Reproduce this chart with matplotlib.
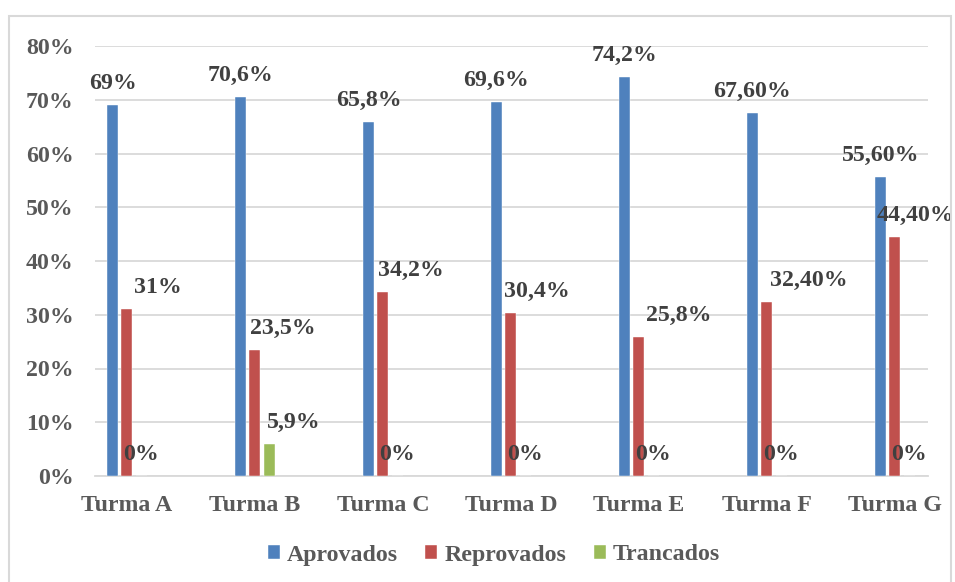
import numpy as np
import matplotlib.pyplot as plt
from matplotlib.patches import Rectangle

# Resultado por turma (%)
turmas = ["Turma A", "Turma B", "Turma C", "Turma D", "Turma E", "Turma F", "Turma G"]
aprovados = [69, 70.6, 65.8, 69.6, 74.2, 67.6, 55.6]
reprovados = [31, 23.5, 34.2, 30.4, 25.8, 32.4, 44.4]
trancados = [0, 5.9, 0, 0, 0, 0, 0]

rot_aprovados = ["69%", "70,6%", "65,8%", "69,6%", "74,2%", "67,60%", "55,60%"]
rot_reprovados = ["31%", "23,5%", "34,2%", "30,4%", "25,8%", "32,40%", "44,40%"]
rot_trancados = ["0%", "5,9%", "0%", "0%", "0%", "0%", "0%"]

plt.rcParams["font.family"] = ["Liberation Serif", "DejaVu Serif"]
plt.rcParams["font.weight"] = "bold"

FS = 17.2
cores = ["#4F81BD", "#C0504D", "#9BBB59"]

fig = plt.figure(figsize=(9.55, 5.82), dpi=100)
ax = fig.add_axes([95 / 955, 1 - 476 / 582, 833 / 955, 430 / 582])

x = np.arange(len(turmas))
w = 0.086
d = 0.113

series = [
    (aprovados, rot_aprovados, "Aprovados", -d),
    (reprovados, rot_reprovados, "Reprovados", 0),
    (trancados, rot_trancados, "Trancados", d),
]

# deslocamento horizontal dos rótulos (pixels)
shift = [
    [0] * 7,
    [31, 28, 28, 26, 40, 42, 21],
    [0, 24, 0, 0, 0, 0, 0],
]

for k, (vals, rots, nome, off) in enumerate(series):
    ax.bar(x + off, vals, width=w, color=cores[k], label=nome, zorder=3,
           edgecolor="white", linewidth=0.3)
    for i, (v, r) in enumerate(zip(vals, rots)):
        ax.annotate(r, xy=(x[i] + off, v), xytext=(shift[k][i], 16),
                    textcoords="offset pixels", ha="center", va="baseline",
                    fontsize=FS, fontweight="bold", color="#404040", zorder=4)

ax.set_xlim(-0.25, 6.26)
ax.set_ylim(0, 80)
ax.set_yticks(np.arange(0, 81, 10))
ax.set_yticklabels([f"{v}%" for v in range(0, 81, 10)])
ax.set_xticks(x)
ax.set_xticklabels(turmas)
ax.tick_params(axis="both", length=0, labelsize=FS, colors="#595959")
ax.tick_params(axis="y", pad=15.5)
ax.tick_params(axis="x", pad=14)
for lab in ax.get_xticklabels() + ax.get_yticklabels():
    lab.set_fontweight("bold")

ax.grid(axis="y", color="#D9D9D9", linewidth=1.3, zorder=0)
for s in ["top", "right", "left"]:
    ax.spines[s].set_visible(False)
ax.spines["bottom"].set_color("#D9D9D9")
ax.spines["bottom"].set_linewidth(1.3)

leg = fig.legend(loc="center", bbox_to_anchor=(494 / 955, 1 - 555 / 582), ncol=3,
                 frameon=False, fontsize=FS, handlelength=0.5, handleheight=0.5,
                 handletextpad=0.3, columnspacing=1.15, borderaxespad=0)
for t in leg.get_texts():
    t.set_color("#595959")
    t.set_fontweight("bold")

# moldura do gráfico
fig.patches.append(Rectangle((9 / 955, -0.05), 942 / 955, 1.05 - 16 / 582,
                             transform=fig.transFigure, fill=False,
                             edgecolor="#D9D9D9", linewidth=1.5))

fig.savefig("out.png", dpi=100)
